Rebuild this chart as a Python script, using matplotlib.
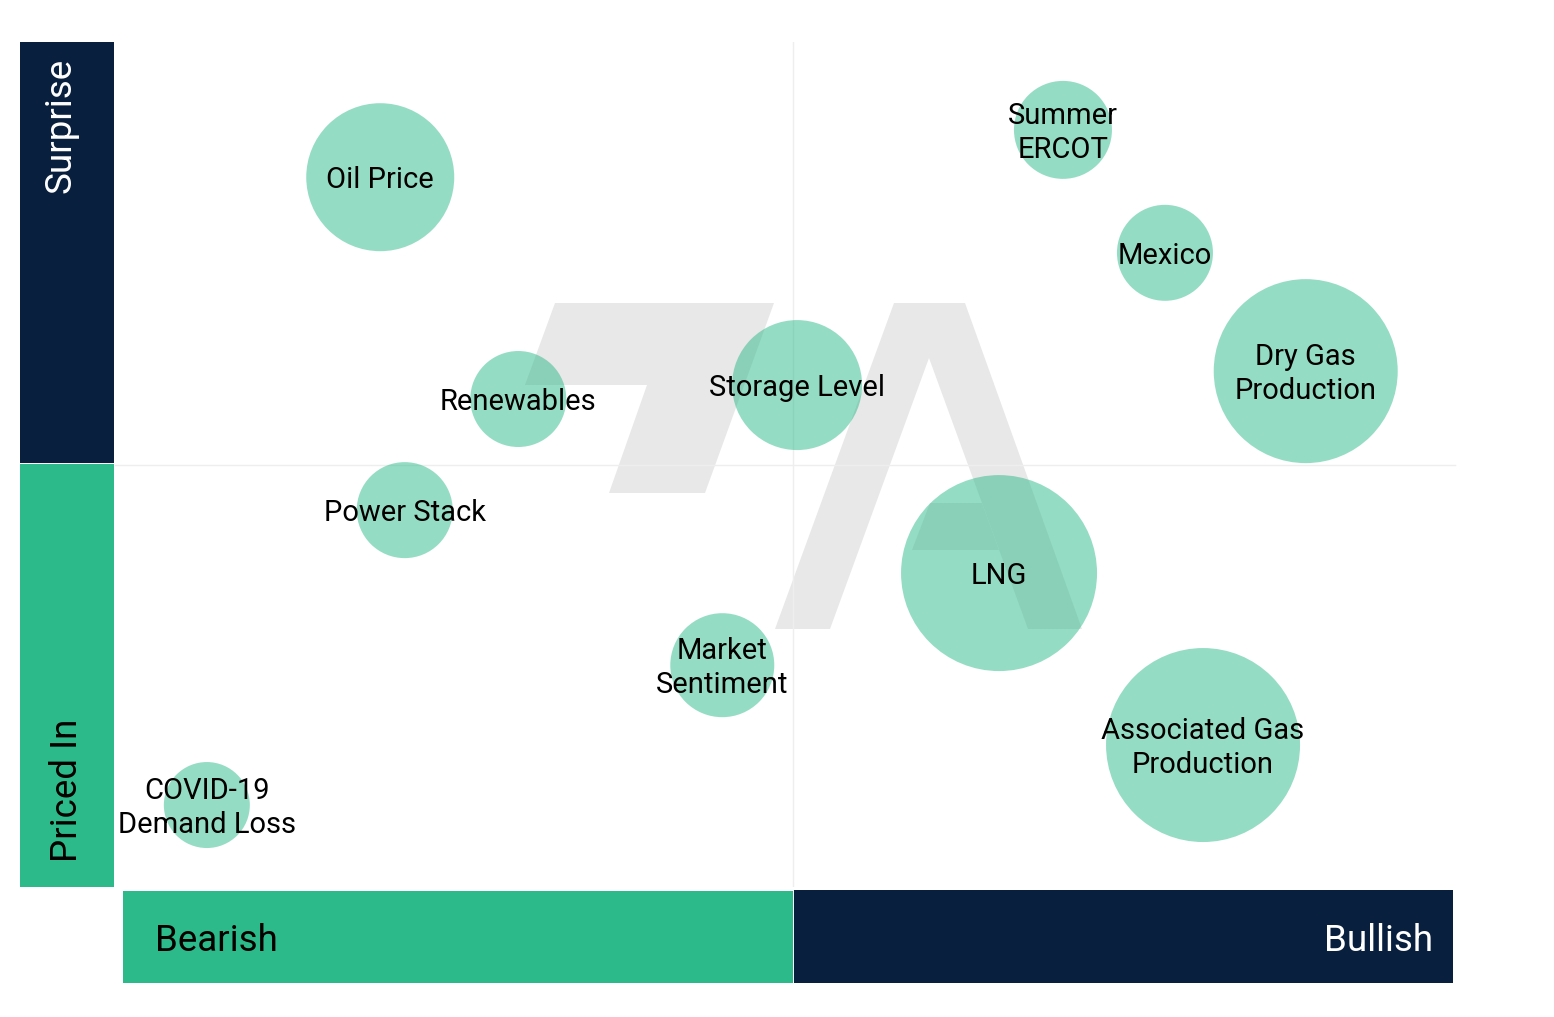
import matplotlib
matplotlib.use("Agg")
import matplotlib.pyplot as plt
from matplotlib.patches import Polygon, Rectangle
from matplotlib.transforms import Affine2D

plt.rcParams['font.family'] = ['Roboto', 'DejaVu Sans']

# bubble data: x = bearish(-) / bullish(+), y = priced in(-) / surprise(+)
drivers = ['Oil Price', 'Summer\nERCOT', 'Mexico', 'Dry Gas\nProduction', 'Renewables',
           'Storage Level', 'Power Stack', 'LNG', 'Market\nSentiment',
           'Associated Gas\nProduction', 'COVID-19\nDemand Loss']
sentiment = [-6.07, 3.97, 5.47, 7.54, -4.04, 0.06, -5.71, 3.03, -1.04, 6.03, -8.62]
surprise = [6.80, 7.92, 5.01, 2.21, 1.55, 1.88, -1.08, -2.57, -4.75, -6.64, -8.06]
impact = [7.4, 4.9, 4.8, 9.2, 4.8, 6.5, 4.8, 9.8, 5.2, 9.7, 4.3]

NAVY = '#081f3d'
GREEN = '#2dba8b'
W, H = 1554, 1017

fig = plt.figure(figsize=(W / 100, H / 100), dpi=100)
px = Affine2D().scale(1 / W, -1 / H).translate(0, 1) + fig.transFigure

ax = fig.add_axes([113 / W, 130 / H, 1360 / W, 845 / H])
ax.set_xlim(-10, 10)
ax.set_ylim(-10, 10)
ax.axis('off')

# quadrant lines
ax.axvline(0, color='#eeeeee', lw=1, zorder=0)
ax.axhline(0, xmin=2 / 1360, xmax=1342 / 1360, color='#eeeeee', lw=1, zorder=0)

# watermark logo (behind the axes)
logo = [
    [(555, 303), (774, 303), (705, 493), (609, 493), (647, 385), (525, 385)],
    [(894, 303), (965, 303), (1082, 629), (1028, 629), (929, 358), (830, 629), (775, 629)],
    [(930, 503), (982, 503), (999, 550), (912, 550)],
]
for pts in logo:
    fig.patches.append(Polygon(pts, closed=True, transform=px, facecolor='#e8e8e8',
                               edgecolor='none', zorder=-1))

# bubbles
sizes = [(2 * v * 10 * 0.72) ** 2 for v in impact]
ax.scatter(sentiment, surprise, s=sizes, color=GREEN, alpha=0.5, edgecolors='none',
           zorder=2, clip_on=False)
for name, x, y in zip(drivers, sentiment, surprise):
    ax.annotate(name, (x, y), xytext=(0, -3), textcoords='offset pixels',
                ha='center', va='center', fontsize=21, color='black',
                linespacing=1.3, zorder=3)

# side bands
bands = [((20, 42), 94, 421, NAVY), ((20, 464), 94, 423, GREEN),
         ((123, 891), 670, 92, GREEN), ((794, 890), 659, 93, NAVY)]
for (x0, y0), w, h, c in bands:
    fig.patches.append(Rectangle((x0, y0), w, h, transform=px, facecolor=c,
                                 edgecolor='none', zorder=1))

fig.text(71, 58, 'Surprise', transform=px, rotation=90, rotation_mode='anchor',
         ha='right', va='baseline', fontsize=26.5, color='white')
fig.text(77, 862, 'Priced In', transform=px, rotation=90, rotation_mode='anchor',
         ha='left', va='baseline', fontsize=26.5, color='black')
fig.text(155, 951, 'Bearish', transform=px, ha='left', va='baseline',
         fontsize=26.5, color='black')
fig.text(1433, 951, 'Bullish', transform=px, ha='right', va='baseline',
         fontsize=26.5, color='white')

fig.savefig('out.png', dpi=100, facecolor='white')
